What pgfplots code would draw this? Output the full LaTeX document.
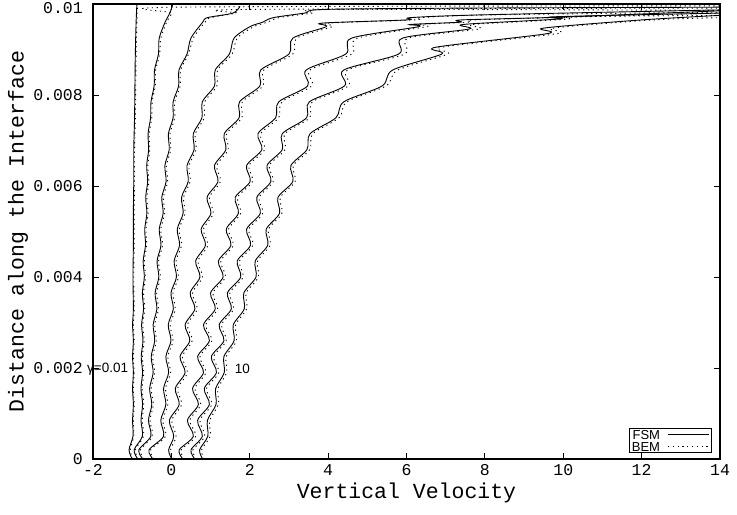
\documentclass[border=0pt]{standalone}
\usepackage{fontspec}
\usepackage{pgfplots}
\usepackage{pgfplotstable}
\pgfplotsset{compat=1.18}
\newfontfamily\monofont{Liberation Mono}
\newfontfamily\sansfont{Liberation Sans}

% one table per gamma: y, FSM x, BEM x
\pgfplotstableread{
y fsm bem
0 -1.00 -0.98
0.0002 -1.08 -1.05
0.0005 -0.98 -0.96
0.00085 -0.99 -0.97
0.0012 -0.97 -0.95
0.00155 -0.99 -0.97
0.0019 -0.97 -0.95
0.00225 -0.99 -0.97
0.0026 -0.97 -0.95
0.00295 -0.99 -0.97
0.0033 -0.97 -0.95
0.0040 -0.98 -0.96
0.0047 -0.97 -0.95
0.0054 -0.97 -0.95
0.0061 -0.96 -0.94
0.0068 -0.96 -0.94
0.0075 -0.94 -0.92
0.0082 -0.93 -0.91
0.0089 -0.92 -0.90
0.0096 -0.90 -0.88
0.0100 -0.88 -0.86
}\cA
\pgfplotstableread{
y fsm bem
0 -0.86 -0.84
0.0002 -0.95 -0.92
0.0005 -0.74 -0.71
0.00085 -0.775 -0.745
0.0012 -0.735 -0.705
0.00155 -0.775 -0.745
0.0019 -0.735 -0.705
0.00225 -0.77 -0.74
0.0026 -0.725 -0.695
0.00295 -0.76 -0.73
0.0033 -0.71 -0.68
0.00365 -0.74 -0.71
0.0040 -0.69 -0.66
0.00435 -0.72 -0.69
0.0047 -0.66 -0.63
0.00505 -0.68 -0.65
0.0054 -0.625 -0.595
0.00575 -0.655 -0.625
0.0061 -0.605 -0.575
0.00645 -0.63 -0.60
0.0068 -0.58 -0.55
0.00715 -0.595 -0.565
0.0075 -0.53 -0.50
0.00785 -0.52 -0.49
0.0082 -0.44 -0.41
0.00855 -0.43 -0.40
0.0089 -0.33 -0.30
0.00925 -0.31 -0.27
0.0096 -0.16 -0.12
0.0098 -0.04 0.02
0.0100 0.04 nan
0.00993 nan 0.14
0.00996 nan 14
}\cB
\pgfplotstableread{
y fsm bem
0 -0.73 -0.70
0.0002 -0.83 -0.79
0.0005 -0.525 -0.485
0.00085 -0.585 -0.545
0.0012 -0.50 -0.46
0.00155 -0.555 -0.515
0.0019 -0.465 -0.425
0.00225 -0.515 -0.475
0.0026 -0.425 -0.385
0.00295 -0.465 -0.425
0.0033 -0.37 -0.33
0.00365 -0.415 -0.375
0.0040 -0.32 -0.28
0.00435 -0.365 -0.325
0.0047 -0.265 -0.225
0.00505 -0.31 -0.27
0.0054 -0.21 -0.17
0.00575 -0.245 -0.205
0.0061 -0.135 -0.095
0.00645 -0.165 -0.125
0.0068 -0.055 -0.015
0.00715 -0.075 -0.035
0.0075 0.045 0.085
0.00785 0.045 0.085
0.0082 0.185 0.225
0.00855 0.195 0.235
0.0089 0.40 0.44
0.00925 0.50 0.56
0.0096 0.80 0.86
0.0097 0.92 1.0
0.0098 1.57 1.65
0.00995 1.75 nan
0.00988 nan 1.9
0.00991 nan 14
}\cC
\pgfplotstableread{
y fsm bem
0 -0.47 -0.44
0.0002 -0.57 -0.53
0.0005 -0.20 -0.15
0.00085 -0.27 -0.22
0.0012 -0.14 -0.09
0.00155 -0.20 -0.15
0.0019 -0.07 -0.02
0.00225 -0.14 -0.09
0.0026 -0.01 0.04
0.00295 -0.08 -0.03
0.0033 0.05 0.10
0.00365 -0.01 0.04
0.0040 0.13 0.18
0.00435 0.07 0.12
0.0047 0.21 0.26
0.00505 0.15 0.20
0.0054 0.30 0.35
0.00575 0.26 0.31
0.0061 0.43 0.48
0.00645 0.40 0.45
0.0068 0.58 0.63
0.00715 0.56 0.61
0.0075 0.78 0.84
0.00785 0.79 0.85
0.0082 1.10 1.16
0.00855 1.12 1.18
0.0089 1.48 1.55
0.00925 1.60 1.68
0.0095 2.0 2.1
0.0096 2.33 2.45
0.0097 2.6 2.75
0.0098 3.4 3.6
0.00988 3.9 4.2
0.00991 7.6 nan
0.00993 14 nan
0.00986 nan 14
}\cD
\pgfplotstableread{
y fsm bem
0 0.01 0.05
0.0002 -0.07 -0.02
0.0005 0.06 0.12
0.00085 -0.05 0.01
0.0012 0.20 0.26
0.00155 0.10 0.16
0.0019 0.35 0.41
0.00225 0.22 0.28
0.0026 0.47 0.53
0.00295 0.35 0.41
0.0033 0.60 0.66
0.00365 0.48 0.54
0.0040 0.73 0.79
0.00435 0.62 0.68
0.0047 0.87 0.93
0.00505 0.76 0.82
0.0054 1.01 1.07
0.00575 0.91 0.97
0.0061 1.19 1.25
0.00645 1.10 1.16
0.0068 1.39 1.45
0.00715 1.35 1.41
0.0075 1.73 1.80
0.00785 1.74 1.81
0.0082 2.26 2.34
0.00855 2.28 2.36
0.0089 3.0 3.1
0.00925 3.1 3.2
0.0095 3.95 4.1
0.00958 3.85 4.0
0.00965 6.0 6.2
0.0097 6.1 6.35
0.00976 7.87 8.1
0.00987 14 nan
0.00982 nan 14
}\cE
\pgfplotstableread{
y fsm bem
0 0.29 0.33
0.0002 0.20 0.25
0.0005 0.56 0.62
0.00085 0.41 0.47
0.0012 0.69 0.75
0.00155 0.54 0.60
0.0019 0.82 0.88
0.00225 0.67 0.73
0.0026 0.97 1.03
0.00295 0.82 0.88
0.0033 1.12 1.18
0.00365 1.00 1.06
0.0040 1.32 1.38
0.00435 1.20 1.26
0.0047 1.52 1.58
0.00505 1.40 1.46
0.0054 1.71 1.77
0.00575 1.63 1.69
0.0061 2.01 2.07
0.00645 1.92 1.98
0.0068 2.31 2.38
0.00715 2.21 2.28
0.0075 2.66 2.74
0.00785 2.74 2.82
0.0082 3.48 3.58
0.00855 3.44 3.54
0.0089 4.45 4.6
0.00925 4.6 4.75
0.0095 6.3 6.5
0.00955 6.1 6.3
0.0096 7.36 7.6
0.00965 7.4 7.7
0.00971 9.91 10.2
0.00985 14 nan
0.0098 nan 14
}\cF
\pgfplotstableread{
y fsm bem
0 0.60 0.64
0.0002 0.50 0.55
0.0005 0.79 0.85
0.00085 0.67 0.73
0.0012 0.97 1.03
0.00155 0.84 0.90
0.0019 1.15 1.21
0.00225 1.02 1.08
0.0026 1.34 1.40
0.00295 1.22 1.28
0.0033 1.53 1.59
0.00365 1.43 1.49
0.0040 1.77 1.83
0.00435 1.68 1.74
0.0047 2.02 2.08
0.00505 1.92 1.98
0.0054 2.27 2.33
0.00575 2.18 2.24
0.0061 2.54 2.60
0.00645 2.44 2.50
0.0068 2.83 2.90
0.00715 2.83 2.90
0.0075 3.45 3.53
0.00785 3.52 3.60
0.0082 4.42 4.52
0.00855 4.40 4.50
0.0089 5.8 5.95
0.00925 5.9 6.05
0.00945 7.6 7.85
0.00955 7.45 7.7
0.00967 9.9 10.15
0.00972 9.8 10.05
0.0098 14 nan
0.00975 nan 14
}\cG
\pgfplotstableread{
y fsm bem
0 0.80 0.84
0.0002 0.72 0.77
0.0005 0.93 0.99
0.00085 0.92 0.98
0.0012 1.14 1.20
0.00155 1.13 1.19
0.0019 1.35 1.41
0.00225 1.34 1.40
0.0026 1.60 1.66
0.00295 1.58 1.64
0.0033 1.86 1.92
0.00365 1.85 1.91
0.0040 2.16 2.22
0.00435 2.14 2.20
0.0047 2.46 2.52
0.00505 2.42 2.48
0.0054 2.76 2.82
0.00575 2.72 2.78
0.0061 3.10 3.16
0.00645 3.05 3.11
0.0068 3.46 3.53
0.00715 3.54 3.61
0.0075 4.20 4.28
0.00785 4.40 4.48
0.0082 5.38 5.48
0.00855 5.65 5.78
0.0089 6.9 7.05
0.00905 6.75 6.9
0.00935 9.6 9.85
0.00947 9.5 9.75
0.00965 12.0 12.3
0.00975 14 nan
0.0097 nan 14
}\cH

\pgfplotsset{
  fsm/.style={black, line width=0.9bp, smooth, tension=0.5},
  bem/.style={black, line width=0.9bp, dash pattern=on 1.2bp off 3.6bp, smooth, tension=0.5},
}

\begin{document}
\begin{tikzpicture}
\useasboundingbox (0,0) rectangle (737bp,515bp);
\begin{axis}[
  at={(93bp,56bp)}, anchor=south west,
  scale only axis, width=627bp, height=455bp,
  xmin=-2, xmax=14, ymin=0, ymax=0.01,
  xtick={-2,0,...,14}, xticklabels={-2,0,2,4,6,8,10,12,14},
  ytick={0,0.002,0.004,0.006,0.008,0.01},
  yticklabels={0,0.002,0.004,0.006,0.008,\raisebox{-4bp}[\height][\depth]{0.01}},
  scaled y ticks=false,
  tick align=inside, major tick length=6bp,
  tick style={black, line width=0.8bp},
  axis line style={black, line width=1.2bp},
  clip mode=individual,
  ticklabel style={font=\monofont\fontsize{16.5bp}{18bp}\selectfont, inner sep=0pt},
  xticklabel style={anchor=north, yshift=-5bp},
  yticklabel style={anchor=east, xshift=-10bp},
  xlabel={Vertical Velocity},
  ylabel={Distance along the Interface},
  every axis x label/.style={at={(axis description cs:0.5,-0.0747)}, anchor=center,
    font=\monofont\fontsize{21.5bp}{24bp}\selectfont},
  every axis y label/.style={at={(axis description cs:-0.1196,0.5)}, rotate=90, anchor=center,
    font=\monofont\fontsize{21.5bp}{24bp}\selectfont},
  legend plot pos=right, legend cell align=right,
  legend image code/.code={\draw[#1] (0bp,0bp) -- (41bp,0bp);},
  legend style={at={(0.987,0.013)}, anchor=south east, draw=black,
    line width=0.8bp, fill=white,
    font=\sansfont\fontsize{13bp}{12bp}\selectfont,
    inner xsep=2bp, inner ysep=1bp, row sep=1.5bp,
    nodes={inner sep=0.5bp, text height=9.3bp, text depth=0bp},
    /tikz/every odd column/.append style={column sep=7bp}},
]
\addplot[fsm] table[x=fsm, y=y] {\cA};
\addlegendentry{FSM}
\addplot[bem] table[x=bem, y=y] {\cA};
\addlegendentry{BEM}
\addplot[fsm, forget plot] table[x=fsm, y=y] {\cB};
\addplot[bem, forget plot] table[x=bem, y=y] {\cB};
\addplot[fsm, forget plot] table[x=fsm, y=y] {\cC};
\addplot[bem, forget plot] table[x=bem, y=y] {\cC};
\addplot[fsm, forget plot] table[x=fsm, y=y] {\cD};
\addplot[bem, forget plot] table[x=bem, y=y] {\cD};
\addplot[fsm, forget plot] table[x=fsm, y=y] {\cE};
\addplot[bem, forget plot] table[x=bem, y=y] {\cE};
\addplot[fsm, forget plot] table[x=fsm, y=y] {\cF};
\addplot[bem, forget plot] table[x=bem, y=y] {\cF};
\addplot[fsm, forget plot] table[x=fsm, y=y] {\cG};
\addplot[bem, forget plot] table[x=bem, y=y] {\cG};
\addplot[fsm, forget plot] table[x=fsm, y=y] {\cH};
\addplot[bem, forget plot] table[x=bem, y=y] {\cH};
\node[font=\sansfont\fontsize{13.5bp}{14bp}\selectfont, anchor=east, inner sep=0pt]
  at (axis cs:-1.10,0.00198) {γ=0.01};
\node[font=\sansfont\fontsize{13.5bp}{14bp}\selectfont, inner sep=0pt]
  at (axis cs:1.81,0.00198) {10};
\end{axis}
\end{tikzpicture}
\end{document}
